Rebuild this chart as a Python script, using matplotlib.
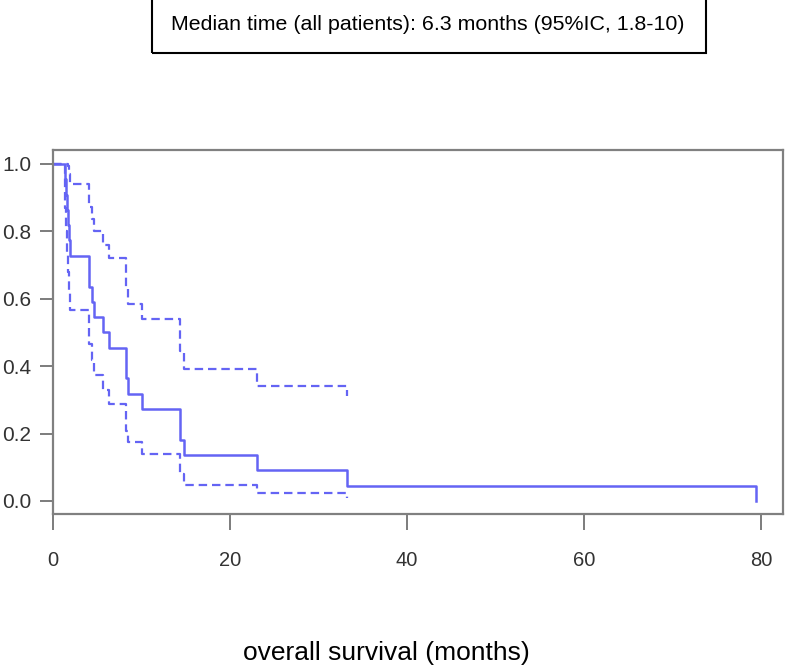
import matplotlib
matplotlib.use('Agg')
import matplotlib.pyplot as plt
from matplotlib.patches import Rectangle

plt.rcParams['font.family'] = ['Liberation Sans', 'DejaVu Sans']

# Kaplan-Meier estimate (months, survival)
km_t = [0, 1.4, 1.5, 1.6, 1.7, 1.8, 1.9, 4.1, 4.4, 4.6, 5.7, 6.3, 8.2, 8.5, 10.1, 14.3, 14.8, 23.1, 33.2, 79.5]
km_s = [1.0, 0.955, 0.909, 0.864, 0.818, 0.773, 0.727, 0.636, 0.591, 0.545, 0.5, 0.455, 0.364, 0.318, 0.273, 0.182, 0.136, 0.091, 0.045, 0.0]

# 95% confidence band (stops at the last finite value)
ci_t = [0, 1.4, 1.5, 1.6, 1.7, 1.8, 1.9, 4.1, 4.4, 4.6, 5.7, 6.3, 8.2, 8.5, 10.1, 14.3, 14.8, 23.1, 33.2]
ci_up = [1.0, 1.0, 1.0, 1.0, 0.995, 0.97, 0.94, 0.873, 0.837, 0.80, 0.76, 0.72, 0.632, 0.586, 0.541, 0.445, 0.391, 0.341, 0.312]
ci_lo = [1.0, 0.87, 0.80, 0.74, 0.68, 0.62, 0.567, 0.466, 0.418, 0.373, 0.329, 0.289, 0.207, 0.174, 0.139, 0.079, 0.047, 0.025, 0.008]

x_ticks = [0, 20, 40, 60, 80]
y_ticks = [0.0, 0.2, 0.4, 0.6, 0.8, 1.0]
y_ticklabels = ['0.0', '0.2', '0.4', '0.6', '0.8', '1.0']

col = '#6464f4'

fig = plt.figure(figsize=(7.88, 6.69), dpi=100)
ax = fig.add_axes([53/788, 1-514/669, 730/788, 364/669])

ax.step(km_t, km_s, where='post', color=col, lw=1.8)
ax.step(ci_t, ci_up, where='post', color=col, lw=1.6, ls=(0, (3.8, 2.2)))
ax.step(ci_t, ci_lo, where='post', color=col, lw=1.6, ls=(0, (3.8, 2.2)))

ax.set_xlim(0, 82.5)
ax.set_ylim(-0.0386, 1.0415)
ax.set_xticks(x_ticks)
ax.set_xticklabels([str(v) for v in x_ticks])
ax.set_yticks(y_ticks)
ax.set_yticklabels(y_ticklabels)

for s in ax.spines.values():
    s.set_color('#808080')
    s.set_linewidth(1.6)

ax.tick_params(axis='y', length=9.5, width=1.2, color='#666666', pad=6,
               labelsize=15, labelcolor='#333333')
ax.tick_params(axis='x', length=11.5, width=1.2, color='#666666', pad=15,
               labelsize=14.5, labelcolor='#333333')

fig.text(386/788, 1-653/669, 'overall survival (months)', ha='center', va='center',
         fontsize=19, color='black')

# boxed header
fig.patches.append(Rectangle((152/788, 1-53/669), 554/788, 53/669 + 0.01,
                             transform=fig.transFigure, fill=False,
                             edgecolor='black', linewidth=1.5))
fig.text(171/788, 1-30/669, 'Median time (all patients): 6.3 months (95%IC, 1.8-10)',
         ha='left', va='baseline', fontsize=15.4, color='black')

fig.savefig('out.png', dpi=100)
